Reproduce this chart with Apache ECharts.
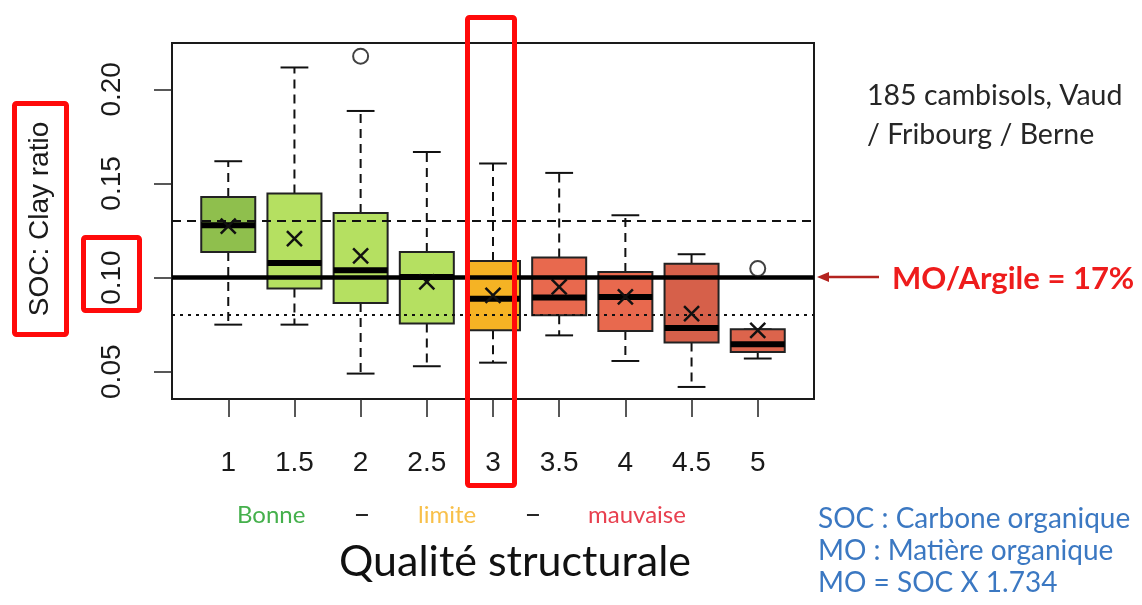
<!DOCTYPE html>
<html>
<head>
<meta charset="utf-8">
<script src="https://cdn.jsdelivr.net/npm/echarts@6/dist/echarts.min.js"></script>
<style>
html,body{margin:0;padding:0;background:#fff;}
#chart{width:1142px;height:605px;}
</style>
</head>
<body>
<div id="chart"></div>
<script>
// ---- data ----
var quality      = [1, 1.5, 2, 2.5, 3, 3.5, 4, 4.5, 5];
var qualityTicks = ['1', '1.5', '2', '2.5', '3', '3.5', '4', '4.5', '5'];
var whiskerLow   = [0.0750, 0.0750, 0.0490, 0.0529, 0.0548, 0.0693, 0.0557, 0.0419, 0.0570];
var q1           = [0.1136, 0.0942, 0.0865, 0.0756, 0.0720, 0.0800, 0.0716, 0.0655, 0.0605];
var median       = [0.1278, 0.1078, 0.1039, 0.1003, 0.0888, 0.0894, 0.0897, 0.0732, 0.0646];
var q3           = [0.1428, 0.1446, 0.1343, 0.1136, 0.1088, 0.1106, 0.1030, 0.1074, 0.0725];
var whiskerHigh  = [0.1618, 0.2116, 0.1885, 0.1667, 0.1606, 0.1556, 0.1331, 0.1124, 0.0725];
var mean         = [0.1273, 0.1207, 0.1115, 0.0977, 0.0906, 0.0950, 0.0897, 0.0809, 0.0720];
var outlierX     = [2, 5];
var outlierY     = [0.2176, 0.1048];
var yTicks       = [0.05, 0.10, 0.15, 0.20];
var refSolid     = 0.10;
var refDashed    = 0.13;
var refDotted    = 0.08;
var boxColors    = ['#8fbf4d', '#b5e061', '#b5e061', '#b5e061', '#f5b324', '#e8694e', '#e8694e', '#d6604a', '#dc644c'];

var boxData = quality.map(function (x, i) {
  return [x, whiskerLow[i], q1[i], median[i], q3[i], whiskerHigh[i], mean[i]];
});
var outlierData = outlierX.map(function (x, i) { return [x, outlierY[i]]; });

var chart = echarts.init(document.getElementById('chart'), null, {renderer: 'canvas'});

var tickFont = '"Liberation Sans Narrow", "Arial Narrow", "Liberation Sans", Arial, sans-serif';
var txtFont = 'Lato, "Open Sans", sans-serif';

function renderBox(params, api) {
  var x = api.value(0);
  var lo = api.coord([x, api.value(1)]);
  var b1 = api.coord([x, api.value(2)]);
  var md = api.coord([x, api.value(3)]);
  var b3 = api.coord([x, api.value(4)]);
  var hi = api.coord([x, api.value(5)]);
  var mn = api.coord([x, api.value(6)]);
  var halfW = api.size([0.204, 0])[0];
  var capW = api.size([0.105, 0])[0];
  var cx = lo[0];
  var ink = '#111';
  var dash = {stroke: ink, lineWidth: 2, lineDash: [9, 6]};
  var solid = {stroke: ink, lineWidth: 2};
  var cs = 7.5;
  return {
    type: 'group',
    children: [
      {type: 'line', shape: {x1: cx, y1: b3[1], x2: cx, y2: hi[1]}, style: dash},
      {type: 'line', shape: {x1: cx, y1: b1[1], x2: cx, y2: lo[1]}, style: dash},
      {type: 'line', shape: {x1: cx - capW, y1: hi[1], x2: cx + capW, y2: hi[1]}, style: solid},
      {type: 'line', shape: {x1: cx - capW, y1: lo[1], x2: cx + capW, y2: lo[1]}, style: solid},
      {type: 'rect', shape: {x: cx - halfW, y: b3[1], width: 2 * halfW, height: b1[1] - b3[1]},
        style: {fill: boxColors[params.dataIndex], stroke: '#222', lineWidth: 2}},
      {type: 'line', shape: {x1: cx - halfW, y1: md[1], x2: cx + halfW, y2: md[1]}, style: {stroke: '#000', lineWidth: 6}},
      {type: 'line', shape: {x1: cx - cs, y1: mn[1] - cs, x2: cx + cs, y2: mn[1] + cs}, style: {stroke: '#111', lineWidth: 2.5}, z2: 10},
      {type: 'line', shape: {x1: cx - cs, y1: mn[1] + cs, x2: cx + cs, y2: mn[1] - cs}, style: {stroke: '#111', lineWidth: 2.5}, z2: 10}
    ]
  };
}

var option = {
  animation: false,
  backgroundColor: '#ffffff',
  grid: {show: true, left: 172, top: 43, width: 642, height: 356, borderColor: '#1a1a1a', borderWidth: 2, backgroundColor: 'transparent'},
  xAxis: {
    type: 'value', min: 0.575, max: 5.425,
    axisLine: {show: false},
    splitLine: {show: false},
    axisTick: {show: true, length: 18, lineStyle: {color: '#222', width: 1.5}, customValues: quality},
    axisLabel: {
      customValues: quality, margin: 50, fontSize: 28, color: '#1a1a1a', fontFamily: tickFont,
      formatter: function (v) { var i = quality.indexOf(v); return i >= 0 ? qualityTicks[i] : ''; }
    }
  },
  yAxis: {
    type: 'value', min: 0.0355, max: 0.2246,
    axisLine: {show: false},
    splitLine: {show: false},
    axisTick: {show: true, length: 18, lineStyle: {color: '#222', width: 1.5}, customValues: yTicks},
    axisLabel: {
      customValues: yTicks, rotate: 90, margin: 46, fontSize: 28, color: '#1a1a1a', fontFamily: tickFont,
      formatter: function (v) { return v.toFixed(2); }
    }
  },
  series: [
    {
      type: 'custom', z: 3, renderItem: renderBox, data: boxData,
      encode: {x: 0, y: [1, 2, 3, 4, 5, 6]}, silent: true
    },
    {
      type: 'scatter', z: 5, data: outlierData, symbol: 'circle', symbolSize: 15, silent: true,
      itemStyle: {color: '#ffffff', borderColor: '#111', borderWidth: 2},
      markLine: {
        silent: true, symbol: ['none', 'none'], label: {show: false},
        data: [
          {yAxis: refDashed, lineStyle: {color: '#111', width: 2, type: [9, 6]}},
          {yAxis: refDotted, lineStyle: {color: '#111', width: 2, type: [3, 5]}},
          {yAxis: refSolid, lineStyle: {color: '#000', width: 4.5, type: 'solid'}}
        ]
      }
    }
  ],
  graphic: [
    // y-axis title and its red frame
    {type: 'text', x: 40, y: 219, rotation: Math.PI / 2,
      style: {text: 'SOC: Clay ratio', font: '28px "Liberation Sans", Arial, sans-serif', fill: '#1a1a1a', textAlign: 'center', textVerticalAlign: 'middle'}},
    {type: 'rect', shape: {x: 14.5, y: 103.5, width: 52, height: 231, r: 2}, style: {fill: 'none', stroke: '#ff0a0a', lineWidth: 5}},
    {type: 'rect', shape: {x: 83.5, y: 237.5, width: 56, height: 73, r: 2}, style: {fill: 'none', stroke: '#ff0a0a', lineWidth: 5}},
    // highlight of column 3
    {type: 'rect', z: 100, shape: {x: 467.5, y: 17.5, width: 47, height: 468, r: 2}, style: {fill: 'none', stroke: '#ff0a0a', lineWidth: 5}},
    // right annotations
    {type: 'text', x: 867, y: 96, style: {text: '185 cambisols, Vaud', font: '28.5px ' + txtFont, fill: '#262626', textVerticalAlign: 'middle'}},
    {type: 'text', x: 867, y: 135, style: {text: '/ Fribourg / Berne', font: '28.5px ' + txtFont, fill: '#262626', textVerticalAlign: 'middle'}},
    {type: 'line', shape: {x1: 879, y1: 277, x2: 826, y2: 277}, style: {stroke: '#b3231f', lineWidth: 2.5}},
    {type: 'polygon', shape: {points: [[817, 277], [829, 272], [829, 282]]}, style: {fill: '#b3231f'}},
    {type: 'text', x: 892, y: 279, style: {text: 'MO/Argile = 17%', font: 'bold 31px ' + txtFont, fill: '#ee1c1c', textVerticalAlign: 'middle'}},
    // bottom labels
    {type: 'text', x: 237, y: 515, style: {text: 'Bonne', font: '24px ' + txtFont, fill: '#45b04c', textVerticalAlign: 'middle'}},
    {type: 'text', x: 362, y: 514, style: {text: '–', font: '30px ' + txtFont, fill: '#262626', textAlign: 'center', textVerticalAlign: 'middle'}},
    {type: 'text', x: 418, y: 515, style: {text: 'limite', font: '24px ' + txtFont, fill: '#f8c04a', textVerticalAlign: 'middle'}},
    {type: 'text', x: 533, y: 514, style: {text: '–', font: '30px ' + txtFont, fill: '#262626', textAlign: 'center', textVerticalAlign: 'middle'}},
    {type: 'text', x: 588, y: 515, style: {text: 'mauvaise', font: '24px ' + txtFont, fill: '#e8404f', textVerticalAlign: 'middle'}},
    {type: 'text', x: 515, y: 562, style: {text: 'Qualité structurale', font: '43px ' + txtFont, fill: '#111', textAlign: 'center', textVerticalAlign: 'middle'}},
    {type: 'text', x: 818, y: 519, style: {text: 'SOC : Carbone organique', font: '28px ' + txtFont, fill: '#3b78c2', textVerticalAlign: 'middle'}},
    {type: 'text', x: 818, y: 551, style: {text: 'MO : Matière organique', font: '28px ' + txtFont, fill: '#3b78c2', textVerticalAlign: 'middle'}},
    {type: 'text', x: 818, y: 583, style: {text: 'MO = SOC X 1.734', font: '28px ' + txtFont, fill: '#3b78c2', textVerticalAlign: 'middle'}}
  ]
};
chart.setOption(option);
</script>
</body>
</html>
